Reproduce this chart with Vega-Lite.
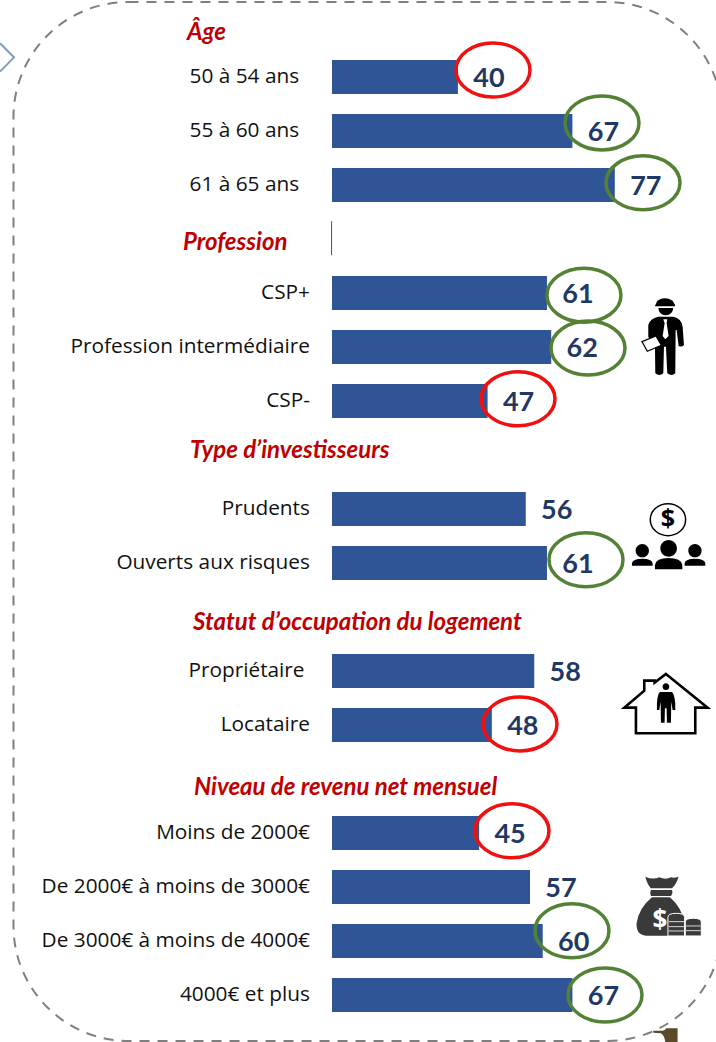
{
"$schema":"https://vega.github.io/schema/vega-lite/v6.json",
"width":716,"height":1042,"padding":0,"autosize":{"type":"none"},
"background":"white",
"view":{"stroke":null},
"config":{"view":{"stroke":null}},
"datasets":{
"barres":[
{"categorie":"50 à 54 ans\u00a0\u00a0\u200b","valeur":40,"rang":0},
{"categorie":"55 à 60 ans\u00a0\u00a0\u200b","valeur":67,"rang":1},
{"categorie":"61 à 65 ans\u00a0\u00a0\u200b","valeur":77,"rang":2},
{"categorie":"CSP+","valeur":61,"rang":4},
{"categorie":"Profession intermédiaire","valeur":62,"rang":5},
{"categorie":"CSP-","valeur":47,"rang":6},
{"categorie":"Prudents","valeur":56,"rang":8},
{"categorie":"Ouverts aux risques","valeur":61,"rang":9},
{"categorie":"Propriétaire\u00a0\u200b","valeur":58,"rang":11},
{"categorie":"Locataire","valeur":48,"rang":12},
{"categorie":"Moins de 2000€","valeur":45,"rang":14},
{"categorie":"De 2000€ à moins de 3000€","valeur":57,"rang":15},
{"categorie":"De 3000€ à moins de 4000€","valeur":60,"rang":16},
{"categorie":"4000€ et plus","valeur":67,"rang":17}],
"titres":[
{"titre":"Âge","valeur":-23.9,"rang":-0.85},
{"titre":"Profession","valeur":-24.84,"rang":3.04},
{"titre":"Type d’investisseurs","valeur":-23.2,"rang":6.89},
{"titre":"Statut d’occupation du logement","valeur":-22.48,"rang":10.07},
{"titre":"Niveau de revenu net mensuel","valeur":-22.25,"rang":13.13}],
"cercles":[
{"sens":"faible","valeur":48.27,"rang":-0.13},
{"sens":"fort","valeur":73.98,"rang":0.85},
{"sens":"fort","valeur":83.65,"rang":1.96},
{"sens":"fort","valeur":69.73,"rang":4.04},
{"sens":"fort","valeur":70.68,"rang":5.02},
{"sens":"faible","valeur":54.17,"rang":5.96},
{"sens":"fort","valeur":70.21,"rang":8.94},
{"sens":"faible","valeur":54.64,"rang":11.98},
{"sens":"faible","valeur":52.75,"rang":13.96},
{"sens":"fort","valeur":66.9,"rang":15.81},
{"sens":"fort","valeur":74.69,"rang":17}],
"cadre":[{"valeur":-64.82,"fin_x":102.28,"rang":-1.389,"fin_y":17.85}],
"axe":[{"valeur":10.2,"rang":2.67,"fin_y":3.3}],
"origine_haut":[{"valeur":78.22,"rang":3.759}],
"origine_bas":[{"valeur":77.27,"rang":10.796}],
"origine_gauche":[{"valeur":-68,"rang":-1.4259}],
"dollar":[{"valeur":89.55,"rang":8.19,"signe":"$"}],
"dollar_sac":[{"valeur":87.66,"rang":15.63,"signe":"$"}]
},
"encoding":{
"x":{"field":"valeur","type":"quantitative","axis":null,"scale":{"domain":[-68,100.87],"range":[0,716],"nice":false,"zero":false,"padding":0}},
"y":{"field":"rang","type":"quantitative","axis":null,"scale":{"domain":[-1.4259,17.8704],"range":[0,1042],"nice":false,"zero":false,"padding":0}}
},
"layer":[
{"data":{"name":"cadre"},"mark":{"type":"rect","cornerRadius":115,"fill":"transparent","stroke":"#7f7f7f","strokeWidth":2,"strokeDash":[10,8]},
 "encoding":{"x2":{"field":"fin_x"},"y2":{"field":"fin_y"}}},
{"data":{"name":"origine_gauche"},"mark":{"type":"point","filled":false,"opacity":1,"size":0.4444,"stroke":"#7f9db9","strokeWidth":2,"shape":"M0 130L42 172L0 215"}},
{"data":{"name":"axe"},"mark":{"type":"rule","stroke":"#2f5597","strokeWidth":1},"encoding":{"y2":{"field":"fin_y"}}},
{"data":{"name":"barres"},"mark":{"type":"bar","size":34,"color":"#2f5597"},"encoding":{"x2":{"datum":10.3}}},
{"data":{"name":"barres"},"mark":{"type":"text","align":"right","baseline":"middle","font":"Open Sans","fontSize":20.8,"color":"#111111"},
 "encoding":{"x":{"datum":5.1,"type":"quantitative","axis":null},"text":{"field":"categorie"}}},
{"data":{"name":"titres"},"mark":{"type":"text","align":"left","baseline":"middle","dy":2,"font":"Lato","fontSize":24,"fontWeight":"bold","fontStyle":"italic","color":"#c00000"},
 "encoding":{"text":{"field":"titre"}}},
{"data":{"name":"cercles"},"mark":{"type":"point","filled":false,"opacity":1,"size":4,"strokeWidth":3.5,"shape":"M-37 0C-37 -14.9 -20.4 -27 0 -27C20.4 -27 37 -14.9 37 0C37 14.9 20.4 27 0 27C-20.4 27 -37 14.9 -37 0Z"},
 "encoding":{"stroke":{"field":"sens","type":"nominal","legend":null,"scale":{"domain":["faible","fort"],"range":["#f01010","#548235"]}}}},
{"data":{"name":"barres"},"mark":{"type":"text","align":"center","baseline":"middle","dx":31,"dy":2,"font":"Lato","fontSize":27,"fontWeight":"bold","color":"#1f3864"},
 "encoding":{"text":{"field":"valeur","type":"quantitative"}}},
{"data":{"name":"origine_haut"},"mark":{"type":"point","filled":true,"opacity":1,"size":0.4444,"color":"black","shape":"M105 78L112 62Q135 48 158 62L165 74L165 79L105 79ZM115 84L160 84Q158 105 137 106Q117 105 115 84ZM115 110L160 110Q185 115 188 140L192 195Q185 203 176 198L170 150L167 150L166 280Q155 290 142 280L138 200L132 200L130 280Q118 290 106 280L105 195L100 200L85 170L85 135Q90 115 115 110Z"}},
{"data":{"name":"origine_haut"},"mark":{"type":"point","filled":true,"opacity":1,"size":0.4444,"color":"white","shape":"M130 118L142 118L140 130L146 168L136 178L128 168L134 130Z"}},
{"data":{"name":"origine_haut"},"mark":{"type":"point","filled":true,"opacity":1,"size":0.4444,"fill":"white","stroke":"black","strokeWidth":1.2,"shape":"M66 185L108 168L124 196L82 214Z"}},
{"data":{"name":"origine_haut"},"mark":{"type":"point","filled":false,"opacity":1,"size":0.4444,"stroke":"black","strokeWidth":1.5,"shape":"M91 719C91 692 115 671 144 671C173 671 197 692 197 719C197 746 173 767 144 767C115 767 91 746 91 719Z"}},
{"data":{"name":"origine_haut"},"mark":{"type":"point","filled":true,"opacity":1,"size":0.4444,"color":"black","shape":"M121 805C121 791 132 780 146 780C160 780 171 791 171 805C171 819 160 830 146 830C132 830 121 819 121 805ZM47 812C47 801 56 792 67 792C78 792 87 801 87 812C87 823 78 832 67 832C56 832 47 823 47 812ZM205 812C205 801 214 792 225 792C236 792 245 801 245 812C245 823 236 832 225 832C214 832 205 823 205 812ZM105 868L105 855Q108 834 146 834Q184 834 187 855L187 868ZM36 857L36 850Q38 836 67 836Q96 836 98 850L98 857ZM194 857L194 850Q196 836 225 836Q254 836 256 850L256 857Z"}},
{"data":{"name":"dollar"},"mark":{"type":"text","align":"center","baseline":"middle","font":"Open Sans","fontWeight":"bold","fontSize":25,"color":"black"},"encoding":{"text":{"field":"signe"}}},
{"data":{"name":"origine_bas"},"mark":{"type":"point","filled":true,"opacity":1,"size":0.4444,"fill":"white","stroke":"black","strokeWidth":2.6,"shape":"M150 42L275 143L238 143L238 220L60 220L60 143L25 143L85 92L85 62L116 62L116 68Z"}},
{"data":{"name":"origine_bas"},"mark":{"type":"point","filled":true,"opacity":1,"size":0.4444,"color":"black","shape":"M140 80C140 74 144 70 150 70C156 70 160 74 160 80C160 86 156 90 150 90C144 90 140 86 140 80ZM132 96L168 96Q175 100 178 130L178 150L170 150L166 125L165 188L153 188L152 145L147 145L146 188L135 188L134 125L130 150L123 150L123 130Q125 100 132 96Z"}},
{"data":{"name":"origine_bas"},"mark":{"type":"point","filled":true,"opacity":1,"size":0.4444,"color":"#3a3a3a","shape":"M88 650Q110 660 130 652Q150 660 165 652Q175 655 188 650Q180 675 168 685L105 685Q95 675 88 650ZM105 690L168 690Q172 700 165 708L105 708Q100 700 105 690ZM108 712L162 712Q200 745 205 790Q205 825 170 827L90 827Q60 825 62 790Q68 745 108 712Z"}},
{"data":{"name":"dollar_sac"},"mark":{"type":"text","align":"center","baseline":"middle","font":"Open Sans","fontWeight":"bold","fontSize":26,"color":"white"},"encoding":{"text":{"field":"signe"}}},
{"data":{"name":"origine_bas"},"mark":{"type":"point","filled":true,"opacity":1,"size":0.4444,"fill":"#3a3a3a","stroke":"white","strokeWidth":1,"shape":"M156 772Q156 760 181 760Q206 760 206 772L206 828L156 828ZM208 786Q208 775 232 775Q256 775 256 786L256 828L208 828Z"}},
{"data":{"name":"origine_bas"},"mark":{"type":"point","filled":false,"opacity":1,"size":0.4444,"stroke":"white","strokeWidth":0.8,"shape":"M158 785H204M158 800H204M158 813H204M210 798H254M210 812H254"}},
{"data":{"name":"origine_bas"},"mark":{"type":"point","filled":true,"opacity":1,"size":0.4444,"color":"#5b4a2a","shape":"M112 1112L140 1112Q150 1110 150 1105L185 1105L185 1146L148 1146Q145 1125 135 1120L112 1118Z"}}
]
}
